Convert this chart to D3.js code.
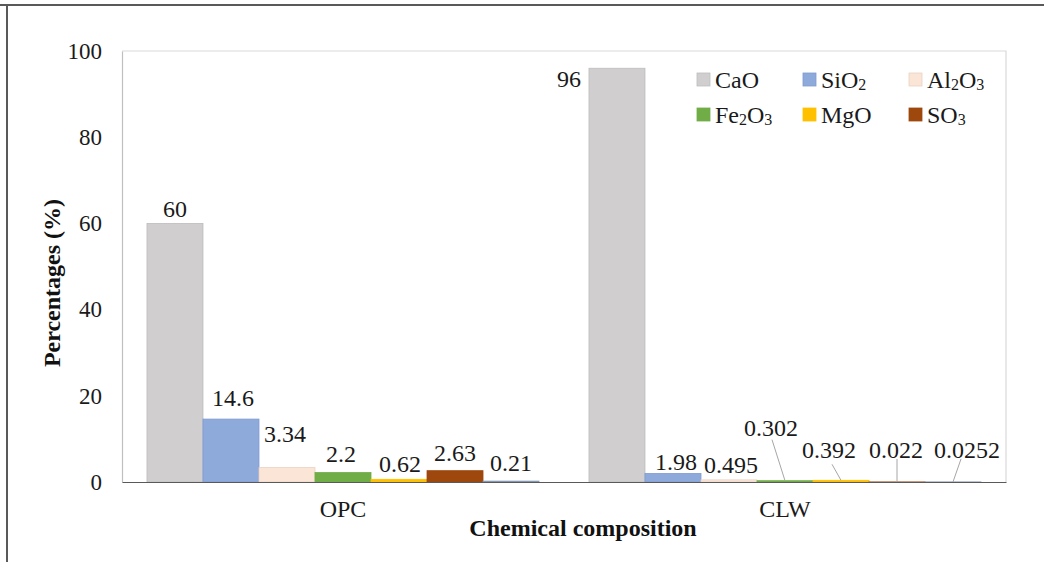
<!DOCTYPE html>
<html>
<head>
<meta charset="utf-8">
<script src="https://cdn.jsdelivr.net/npm/d3@7"></script>
<style>
  html, body { margin: 0; padding: 0; background: #fff; }
  svg { display: block; font-family: "Liberation Serif", "Times New Roman", serif; }
</style>
</head>
<body>
<svg id="chart" width="1044" height="562"></svg>
<script>
// Chemical composition of OPC and CLW (wt %)
const categories = ["OPC", "CLW"];
const oxides = ["CaO", "SiO2", "Al2O3", "Fe2O3", "MgO", "SO3", "Other"];
const opcValues = [60, 14.6, 3.34, 2.2, 0.62, 2.63, 0.21];
const clwValues = [96, 1.98, 0.495, 0.302, 0.392, 0.022, 0.0252];
const yTicks = [0, 20, 40, 60, 80, 100];
const legendOxides = ["CaO", "SiO2", "Al2O3", "Fe2O3", "MgO", "SO3"];

// styling
const fills = ["#d0cece", "#8eaadb", "#fbe5d6", "#70ad47", "#ffc000", "#9e480e", "#8497b0"];
const strokes = ["#bdbdbd", "#7f9bd0", "#e8d2c3", "#70ad47", "#ffc000", "#9e480e", "#8497b0"];
const serif = "Liberation Serif, Times New Roman, serif";

// label offsets from the top-centre of each bar [dx, dy]
const labelLayout = {
  OPC: [[0, -15], [2, -21], [-2, -34], [-2, -19], [1, -16], [0, -18], [0, -18]],
  CLW: [[-48, 10], [3, -12], [2, -15], [-14, -53], [-12, -31], [-1, -32], [14, -32]]
};
// leader line start points, relative to the top-centre of the bar
const leaders = { CLW: [null, null, null, [-13, -41], [-9, -16], [0, -23], [8, -23]] };

const svg = d3.select("#chart");
const plot = { left: 122, right: 1006, top: 51, bottom: 482 };

// outer frame
svg.append("line").attr("x1", 0).attr("x2", 1044).attr("y1", 5).attr("y2", 5)
  .attr("stroke", "#595959").attr("stroke-width", 2);
svg.append("line").attr("x1", 7).attr("x2", 7).attr("y1", 5).attr("y2", 562)
  .attr("stroke", "#595959").attr("stroke-width", 2);

const x0 = d3.scaleBand().domain(categories).range([plot.left, plot.right]);
const x1 = d3.scaleBand().domain(oxides).range([0, x0.bandwidth()])
  .paddingInner(0).paddingOuter(0.446);
const y = d3.scaleLinear().domain([0, 100]).range([plot.bottom, plot.top]);

// plot area border (top/right)
svg.append("path")
  .attr("d", `M${plot.left},${plot.top}H${plot.right}V${plot.bottom}`)
  .attr("fill", "none").attr("stroke", "#d9d9d9").attr("stroke-width", 1.2);

const seriesByCat = { OPC: opcValues, CLW: clwValues };

// bars
categories.forEach(cat => {
  const g = svg.append("g").attr("transform", `translate(${x0(cat)},0)`);
  g.selectAll("rect").data(seriesByCat[cat]).join("rect")
    .attr("x", (d, i) => x1(oxides[i]))
    .attr("y", d => y(d))
    .attr("width", x1.bandwidth())
    .attr("height", d => y(0) - y(d))
    .attr("fill", (d, i) => fills[i])
    .attr("stroke", (d, i) => strokes[i])
    .attr("stroke-width", 0.8);

  // value labels
  seriesByCat[cat].forEach((v, i) => {
    const cx = x1(oxides[i]) + x1.bandwidth() / 2;
    const [dx, dy] = labelLayout[cat][i];
    const lx = cx + dx, ly = y(v) + dy;
    g.append("text").attr("x", lx).attr("y", ly).attr("dy", "0.35em")
      .attr("text-anchor", "middle").attr("font-size", 24).attr("fill", "#1a1a1a")
      .attr("font-family", serif)
      .text(String(v));
    const ld = leaders[cat] && leaders[cat][i];
    if (ld) {
      g.append("line")
        .attr("x1", cx + ld[0]).attr("y1", y(v) + ld[1])
        .attr("x2", cx).attr("y2", y(v))
        .attr("stroke", "#a6a6a6").attr("stroke-width", 1);
    }
  });
});

// y axis
const yAxis = svg.append("g").attr("transform", `translate(${plot.left},0)`)
  .call(d3.axisLeft(y).tickValues(yTicks).tickSize(0).tickPadding(20));
yAxis.select(".domain").attr("stroke", "#bfbfbf").attr("stroke-width", 1.2);
yAxis.selectAll("text").attr("font-size", 23).attr("fill", "#1a1a1a")
  .attr("font-family", serif);

// x axis
const xAxis = svg.append("g").attr("transform", `translate(0,${plot.bottom})`)
  .call(d3.axisBottom(x0).tickSize(0).tickPadding(18));
xAxis.select(".domain").attr("stroke", "#595959").attr("stroke-width", 1.2);
xAxis.selectAll("text").attr("font-size", 24).attr("fill", "#1a1a1a")
  .attr("font-family", serif);

// axis titles
svg.append("text").attr("x", 583).attr("y", 536).attr("text-anchor", "middle")
  .attr("font-size", 24).attr("font-weight", "bold").attr("fill", "#111")
  .attr("font-family", serif)
  .text("Chemical composition");
svg.append("text").attr("transform", "translate(60,283) rotate(-90)")
  .attr("text-anchor", "middle").attr("font-size", 24).attr("font-weight", "bold")
  .attr("fill", "#111").attr("font-family", serif).text("Percentages (%)");

// legend entries with subscript digits
function chemLabel(sel, name) {
  const parts = name.match(/[A-Za-z]+|\d+/g);
  let shifted = false;
  parts.forEach(p => {
    const isSub = /^\d+$/.test(p);
    const ts = sel.append("tspan").text(p);
    if (isSub) {
      ts.attr("font-size", 16).attr("dy", 2);
      shifted = true;
    } else if (shifted) {
      ts.attr("dy", -2);
      shifted = false;
    }
  });
}
const legendCols = [697, 803, 909];
const legendRows = [80, 115];
legendOxides.forEach((name, k) => {
  const i = oxides.indexOf(name);
  const lx = legendCols[k % 3], ly = legendRows[Math.floor(k / 3)];
  svg.append("rect").attr("x", lx).attr("y", ly - 7).attr("width", 13).attr("height", 13)
    .attr("fill", fills[i]).attr("stroke", strokes[i]).attr("stroke-width", 0.8);
  const t = svg.append("text").attr("x", lx + 18).attr("y", ly).attr("dy", "0.35em")
    .attr("font-size", 24).attr("fill", "#1a1a1a").attr("font-family", serif);
  chemLabel(t, name);
});
</script>
</body>
</html>
